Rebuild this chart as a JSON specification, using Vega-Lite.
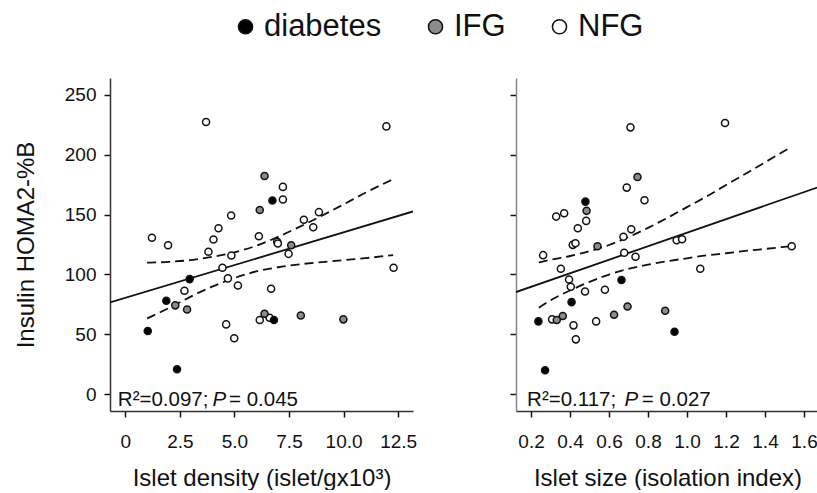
{
  "$schema": "https://vega.github.io/schema/vega-lite/v6.json",
  "background": "white",
  "padding": {"left": 14, "top": 11, "right": 0, "bottom": 0},
  "spacing": 92,
  "config": {
    "font": "Liberation Sans",
    "view": {"stroke": null},
    "axis": {
      "grid": false,
      "domainColor": "#333333",
      "domainWidth": 1.5,
      "tickColor": "#111111",
      "tickWidth": 1.5,
      "tickSize": 6,
      "labelFont": "Liberation Sans",
      "labelFontSize": 19,
      "labelColor": "#111111",
      "titleFont": "Liberation Sans",
      "titleFontSize": 24,
      "titleFontWeight": "normal",
      "titleColor": "#111111"
    }
  },
  "datasets": {
    "pts1": [
      {"x": 3.70, "y": 227.2, "group": "NFG"},
      {"x": 11.96, "y": 223.6, "group": "NFG"},
      {"x": 7.22, "y": 173.1, "group": "NFG"},
      {"x": 7.22, "y": 162.5, "group": "NFG"},
      {"x": 4.85, "y": 149.2, "group": "NFG"},
      {"x": 8.87, "y": 152.0, "group": "NFG"},
      {"x": 8.18, "y": 145.6, "group": "NFG"},
      {"x": 8.61, "y": 139.4, "group": "NFG"},
      {"x": 4.27, "y": 138.6, "group": "NFG"},
      {"x": 1.22, "y": 130.6, "group": "NFG"},
      {"x": 4.04, "y": 129.2, "group": "NFG"},
      {"x": 6.12, "y": 131.9, "group": "NFG"},
      {"x": 1.96, "y": 124.4, "group": "NFG"},
      {"x": 6.96, "y": 127.2, "group": "NFG"},
      {"x": 6.99, "y": 125.8, "group": "NFG"},
      {"x": 3.81, "y": 118.9, "group": "NFG"},
      {"x": 4.86, "y": 115.8, "group": "NFG"},
      {"x": 7.48, "y": 117.2, "group": "NFG"},
      {"x": 12.29, "y": 105.6, "group": "NFG"},
      {"x": 4.45, "y": 105.6, "group": "NFG"},
      {"x": 4.70, "y": 96.7, "group": "NFG"},
      {"x": 5.16, "y": 90.8, "group": "NFG"},
      {"x": 2.71, "y": 86.4, "group": "NFG"},
      {"x": 6.68, "y": 88.0, "group": "NFG"},
      {"x": 4.62, "y": 58.3, "group": "NFG"},
      {"x": 4.99, "y": 46.7, "group": "NFG"},
      {"x": 6.16, "y": 62.0, "group": "NFG"},
      {"x": 6.61, "y": 63.9, "group": "NFG"},
      {"x": 6.38, "y": 182.2, "group": "IFG"},
      {"x": 6.16, "y": 153.8, "group": "IFG"},
      {"x": 7.60, "y": 124.4, "group": "IFG"},
      {"x": 2.29, "y": 74.2, "group": "IFG"},
      {"x": 2.83, "y": 70.8, "group": "IFG"},
      {"x": 6.38, "y": 67.2, "group": "IFG"},
      {"x": 8.04, "y": 65.8, "group": "IFG"},
      {"x": 9.99, "y": 62.5, "group": "IFG"},
      {"x": 6.74, "y": 161.7, "group": "diabetes"},
      {"x": 2.95, "y": 96.1, "group": "diabetes"},
      {"x": 1.88, "y": 78.0, "group": "diabetes"},
      {"x": 1.03, "y": 52.8, "group": "diabetes"},
      {"x": 2.37, "y": 20.8, "group": "diabetes"},
      {"x": 6.81, "y": 62.0, "group": "diabetes"}
    ],
    "pts2": [
      {"x": 0.710, "y": 222.8, "group": "NFG"},
      {"x": 1.195, "y": 226.4, "group": "NFG"},
      {"x": 0.691, "y": 172.5, "group": "NFG"},
      {"x": 0.782, "y": 161.9, "group": "NFG"},
      {"x": 0.329, "y": 148.3, "group": "NFG"},
      {"x": 0.370, "y": 151.1, "group": "NFG"},
      {"x": 0.483, "y": 144.7, "group": "NFG"},
      {"x": 0.440, "y": 138.6, "group": "NFG"},
      {"x": 0.714, "y": 137.8, "group": "NFG"},
      {"x": 0.674, "y": 131.4, "group": "NFG"},
      {"x": 0.414, "y": 124.7, "group": "NFG"},
      {"x": 0.428, "y": 126.1, "group": "NFG"},
      {"x": 0.947, "y": 128.6, "group": "NFG"},
      {"x": 0.975, "y": 129.4, "group": "NFG"},
      {"x": 1.537, "y": 123.6, "group": "NFG"},
      {"x": 0.262, "y": 116.1, "group": "NFG"},
      {"x": 0.678, "y": 118.1, "group": "NFG"},
      {"x": 0.736, "y": 114.7, "group": "NFG"},
      {"x": 0.353, "y": 104.7, "group": "NFG"},
      {"x": 1.068, "y": 104.7, "group": "NFG"},
      {"x": 0.395, "y": 95.8, "group": "NFG"},
      {"x": 0.404, "y": 89.7, "group": "NFG"},
      {"x": 0.477, "y": 85.8, "group": "NFG"},
      {"x": 0.579, "y": 87.2, "group": "NFG"},
      {"x": 0.308, "y": 62.5, "group": "NFG"},
      {"x": 0.418, "y": 57.5, "group": "NFG"},
      {"x": 0.430, "y": 45.8, "group": "NFG"},
      {"x": 0.534, "y": 60.8, "group": "NFG"},
      {"x": 0.746, "y": 181.4, "group": "IFG"},
      {"x": 0.485, "y": 153.1, "group": "IFG"},
      {"x": 0.541, "y": 123.6, "group": "IFG"},
      {"x": 0.695, "y": 73.3, "group": "IFG"},
      {"x": 0.888, "y": 69.7, "group": "IFG"},
      {"x": 0.332, "y": 61.9, "group": "IFG"},
      {"x": 0.363, "y": 65.3, "group": "IFG"},
      {"x": 0.626, "y": 66.4, "group": "IFG"},
      {"x": 0.479, "y": 160.8, "group": "diabetes"},
      {"x": 0.664, "y": 95.3, "group": "diabetes"},
      {"x": 0.408, "y": 76.9, "group": "diabetes"},
      {"x": 0.238, "y": 60.8, "group": "diabetes"},
      {"x": 0.936, "y": 52.2, "group": "diabetes"},
      {"x": 0.272, "y": 20.0, "group": "diabetes"}
    ],
    "fit1": [{"x": -0.7, "y": 76.6}, {"x": 13.18, "y": 152.6}],
    "fit2": [{"x": 0.123, "y": 85.3}, {"x": 1.677, "y": 173.1}],
    "band1": [
      {"x": 1.0, "upper": 109.8, "lower": 63.3},
      {"x": 2.0, "upper": 110.5, "lower": 72.0},
      {"x": 3.0, "upper": 112.0, "lower": 81.5},
      {"x": 4.0, "upper": 114.7, "lower": 90.0},
      {"x": 5.0, "upper": 118.5, "lower": 97.0},
      {"x": 6.0, "upper": 124.0, "lower": 102.5},
      {"x": 7.0, "upper": 131.4, "lower": 106.0},
      {"x": 8.0, "upper": 139.9, "lower": 108.5},
      {"x": 9.0, "upper": 149.0, "lower": 110.3},
      {"x": 10.0, "upper": 158.5, "lower": 112.0},
      {"x": 11.0, "upper": 168.2, "lower": 113.6},
      {"x": 12.27, "upper": 179.5, "lower": 116.2}
    ],
    "band2": [
      {"x": 0.24, "upper": 110.0, "lower": 72.2},
      {"x": 0.3, "upper": 112.2, "lower": 78.4},
      {"x": 0.4, "upper": 115.4, "lower": 86.6},
      {"x": 0.5, "upper": 119.4, "lower": 93.8},
      {"x": 0.6, "upper": 124.6, "lower": 99.9},
      {"x": 0.7, "upper": 131.2, "lower": 104.6},
      {"x": 0.8, "upper": 138.9, "lower": 108.2},
      {"x": 0.9, "upper": 147.3, "lower": 111.1},
      {"x": 1.0, "upper": 156.2, "lower": 113.5},
      {"x": 1.1, "upper": 165.1, "lower": 115.9},
      {"x": 1.2, "upper": 174.6, "lower": 117.7},
      {"x": 1.3, "upper": 184.0, "lower": 119.6},
      {"x": 1.4, "upper": 193.6, "lower": 121.3},
      {"x": 1.535, "upper": 206.4, "lower": 123.6}
    ],
    "ann1": [
      {"x": -0.34, "y": -10, "text": "R²=0.097;"},
      {"x": 4.75, "y": -10, "text": "= 0.045"}
    ],
    "ann1i": [{"x": 4.0, "y": -10, "text": "P"}],
    "ann2": [
      {"x": 0.180, "y": -10, "text": "R²=0.117;"},
      {"x": 0.768, "y": -10, "text": "= 0.027"}
    ],
    "ann2i": [{"x": 0.680, "y": -10, "text": "P"}]
  },
  "resolve": {"scale": {"fill": "shared"}, "legend": {"fill": "shared"}},
  "hconcat": [
    {
      "width": 303,
      "height": 333,
      "encoding": {
        "x": {
          "field": "x", "type": "quantitative",
          "scale": {"domain": [-0.7, 13.18], "nice": false, "zero": false},
          "axis": {
            "title": "Islet density (islet/gx10³)",
            "values": [0, 2.5, 5, 7.5, 10, 12.5],
            "labelExpr": "datum.value == 0 ? '0' : format(datum.value, '.1f')",
            "labelPadding": 15,
            "titlePadding": 15
          }
        },
        "y": {
          "field": "y", "type": "quantitative",
          "scale": {"domain": [-14, 264], "nice": false, "zero": false},
          "axis": {
            "title": "Insulin HOMA2-%B",
            "values": [0, 50, 100, 150, 200, 250],
            "labelPadding": 8,
            "titlePadding": 26
          }
        }
      },
      "layer": [
        {
          "data": {"name": "fit1"},
          "mark": {"type": "line", "color": "#111111", "strokeWidth": 1.8, "clip": true}
        },
        {
          "data": {"name": "band1"},
          "mark": {"type": "line", "color": "#111111", "strokeWidth": 1.8, "strokeDash": [9, 5], "interpolate": "monotone"},
          "encoding": {"y": {"field": "upper", "type": "quantitative"}}
        },
        {
          "data": {"name": "band1"},
          "mark": {"type": "line", "color": "#111111", "strokeWidth": 1.8, "strokeDash": [9, 5], "interpolate": "monotone"},
          "encoding": {"y": {"field": "lower", "type": "quantitative"}}
        },
        {
          "data": {"name": "pts1"},
          "mark": {"type": "circle", "size": 50, "stroke": "#111111", "strokeWidth": 1.5, "opacity": 1},
          "encoding": {
            "fill": {
              "field": "group", "type": "nominal",
              "scale": {"domain": ["diabetes", "IFG", "NFG"], "range": ["#000000", "#8c8c8c", "#ffffff"]},
              "legend": {
                "title": null,
                "orient": "none",
                "direction": "horizontal",
                "legendX": 120,
                "legendY": -67,
                "symbolType": "circle",
                "symbolSize": 200,
                "symbolStrokeColor": "#111111",
                "symbolStrokeWidth": 1.5,
                "labelFont": "Liberation Sans",
                "labelFontSize": 31,
                "labelColor": "#111111",
                "labelOffset": 3,
                "columnPadding": 38
              }
            }
          }
        },
        {
          "data": {"name": "ann1"},
          "mark": {"type": "text", "align": "left", "baseline": "alphabetic", "fontSize": 20.5, "color": "#111111"},
          "encoding": {"text": {"field": "text"}}
        },
        {
          "data": {"name": "ann1i"},
          "mark": {"type": "text", "align": "left", "baseline": "alphabetic", "fontSize": 20.5, "fontStyle": "italic", "color": "#111111"},
          "encoding": {"text": {"field": "text"}}
        }
      ]
    },
    {
      "width": 303,
      "height": 333,
      "encoding": {
        "x": {
          "field": "x", "type": "quantitative",
          "scale": {"domain": [0.123, 1.677], "nice": false, "zero": false},
          "axis": {
            "title": "Islet size (isolation index)",
            "values": [0.2, 0.4, 0.6, 0.8, 1.0, 1.2, 1.4, 1.6],
            "format": ".1f",
            "labelPadding": 15,
            "titlePadding": 15
          }
        },
        "y": {
          "field": "y", "type": "quantitative",
          "scale": {"domain": [-14, 264], "nice": false, "zero": false},
          "axis": {
            "title": null,
            "labels": false,
            "values": [0, 50, 100, 150, 200, 250],
            "domainColor": "#888888"
          }
        }
      },
      "layer": [
        {
          "data": {"name": "fit2"},
          "mark": {"type": "line", "color": "#111111", "strokeWidth": 1.8, "clip": true}
        },
        {
          "data": {"name": "band2"},
          "mark": {"type": "line", "color": "#111111", "strokeWidth": 1.8, "strokeDash": [9, 5], "interpolate": "monotone"},
          "encoding": {"y": {"field": "upper", "type": "quantitative"}}
        },
        {
          "data": {"name": "band2"},
          "mark": {"type": "line", "color": "#111111", "strokeWidth": 1.8, "strokeDash": [9, 5], "interpolate": "monotone"},
          "encoding": {"y": {"field": "lower", "type": "quantitative"}}
        },
        {
          "data": {"name": "pts2"},
          "mark": {"type": "circle", "size": 50, "stroke": "#111111", "strokeWidth": 1.5, "opacity": 1},
          "encoding": {
            "fill": {"field": "group", "type": "nominal"}
          }
        },
        {
          "data": {"name": "ann2"},
          "mark": {"type": "text", "align": "left", "baseline": "alphabetic", "fontSize": 20.5, "color": "#111111"},
          "encoding": {"text": {"field": "text"}}
        },
        {
          "data": {"name": "ann2i"},
          "mark": {"type": "text", "align": "left", "baseline": "alphabetic", "fontSize": 20.5, "fontStyle": "italic", "color": "#111111"},
          "encoding": {"text": {"field": "text"}}
        }
      ]
    }
  ]
}
